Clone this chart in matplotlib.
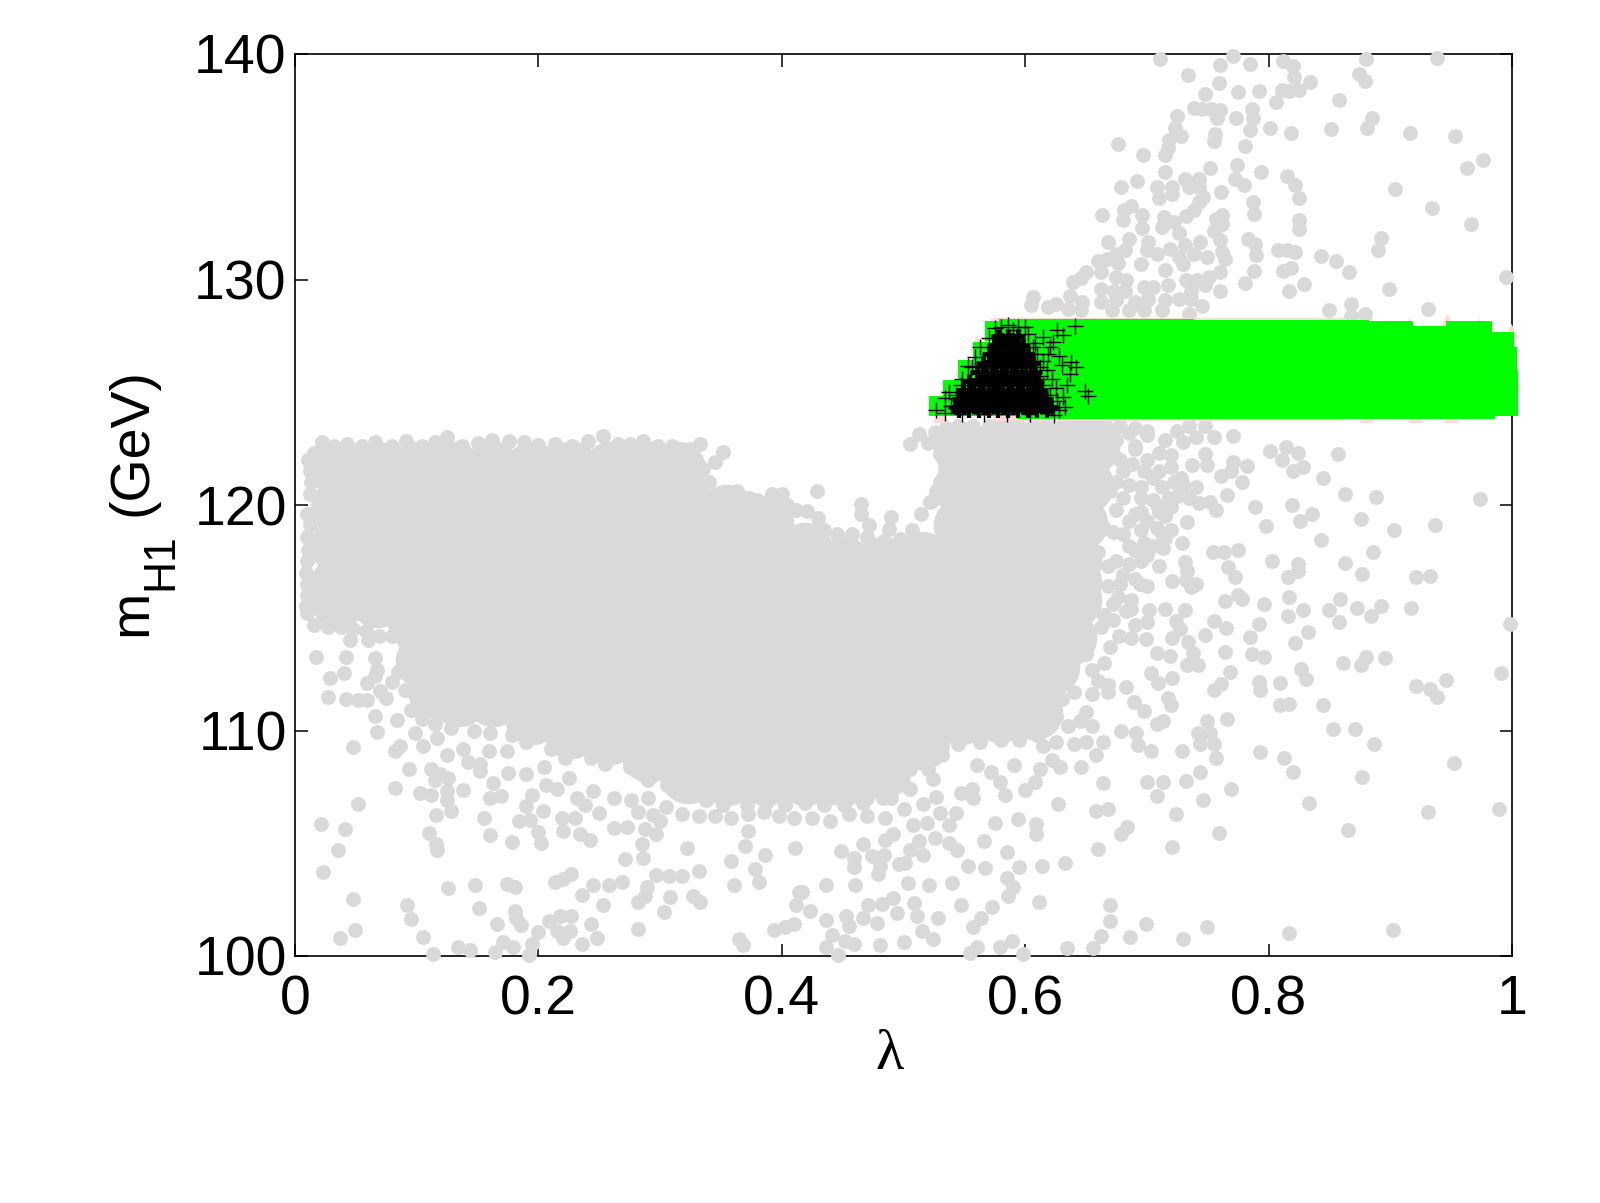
import matplotlib
matplotlib.use("Agg")
import matplotlib.pyplot as plt

plt.rcParams.update({
    "font.family": ["Liberation Sans", "DejaVu Sans"],
    "font.size": 40,
})

x_ticks = [0, 0.2, 0.4, 0.6, 0.8, 1]
x_tick_labels = ["0", "0.2", "0.4", "0.6", "0.8", "1"]
y_ticks = [100, 110, 120, 130, 140]

# solid part of the grey cloud (drawn with big discs)
core_pts = [
    (.035,121.6),(.035,119.9),(.035,118.2),(.035,116.5),(.035,115.8),
    (.067,121.6),(.067,119.9),(.067,118.2),(.067,116.5),(.067,115.8),
    (.099,121.6),(.099,119.9),(.099,118.2),(.099,116.5),(.099,114.8),(.105,113.1),(.115,111.8),
    (.131,121.6),(.131,119.9),(.131,118.2),(.131,116.5),(.131,114.8),(.131,113.1),(.135,111.4),
    (.163,121.6),(.163,119.9),(.163,118.2),(.163,116.5),(.163,114.8),(.163,113.1),(.163,111.4),
    (.195,121.6),(.195,119.9),(.195,118.2),(.195,116.5),(.195,114.8),(.195,113.1),(.195,111.4),(.195,110.6),
    (.227,121.6),(.227,119.9),(.227,118.2),(.227,116.5),(.227,114.8),(.227,113.1),(.227,111.4),(.227,110.0),
    (.259,121.6),(.259,119.9),(.259,118.2),(.259,116.5),(.259,114.8),(.259,113.1),(.259,111.4),(.259,109.7),
    (.291,121.6),(.291,119.9),(.291,118.2),(.291,116.5),(.291,114.8),(.291,113.1),(.291,111.4),(.291,109.7),(.291,108.9),
    (.315,121.6),(.323,119.9),(.323,118.2),(.323,116.5),(.323,114.8),(.323,113.1),(.323,111.4),(.323,109.7),(.323,108.0),
    (.355,119.7),(.355,118.0),(.355,116.3),(.355,114.6),(.355,112.9),(.355,111.2),(.355,109.5),(.355,107.9),
    (.387,119.2),(.387,117.5),(.387,115.8),(.387,114.1),(.387,112.4),(.387,110.7),(.387,109.0),(.387,107.9),
    (.419,118.0),(.419,116.9),(.419,115.2),(.419,113.5),(.419,111.8),(.419,110.1),(.419,108.9),(.419,107.9),
    (.451,117.4),(.451,115.7),(.451,114.0),(.451,112.3),(.451,110.6),(.451,108.9),(.451,107.9),
    (.483,117.4),(.483,115.7),(.483,114.0),(.483,112.3),(.483,110.6),(.483,109.0),(.483,108.2),
    (.515,117.6),(.515,115.9),(.515,114.2),(.515,112.5),(.515,110.8),(.515,109.5),
    (.547,122.5),(.547,120.8),(.547,119.1),(.547,117.4),(.547,115.7),(.547,114.0),(.547,112.3),(.547,110.6),
    (.579,122.6),(.579,120.9),(.579,119.2),(.579,117.5),(.579,115.8),(.579,114.1),(.579,112.4),(.579,110.7),
    (.611,122.6),(.611,120.9),(.611,119.2),(.611,117.5),(.611,115.8),(.611,114.1),(.611,112.4),(.608,110.8),
    (.640,122.6),(.640,120.9),(.640,119.2),(.640,117.5),(.640,115.8),(.636,114.1),(.622,112.8),
    (.655,122.6),(.650,120.9),(.645,119.2),(.640,116.6),
]

# small discs that square off the upper-left block of the cloud
block_edge_pts = [
    (.016,122.3),(.022,122.8),(.032,122.6),(.043,122.7),(.055,122.6),(.066,122.8),(.080,122.6),(.091,122.85),
    (.104,122.6),(.115,122.8),(.125,123.0),(.137,122.6),(.150,122.75),(.162,122.9),(.176,122.85),(.188,122.8),
    (.200,122.65),(.214,122.7),(.228,122.6),(.241,122.85),(.253,123.05),(.265,122.7),(.275,122.7),(.286,122.85),
    (.298,122.6),(.310,122.6),(.325,122.5),(.333,122.7),(.352,122.35),(.345,121.9),(.335,121.6),(.340,121.0),
    (.363,120.6),(.373,120.3),(.380,120.2),(.392,120.5),(.400,120.5),(.404,120.0),(.412,119.8),
    (.011,122.0),(.012,121.5),(.013,121.0),(.012,120.5),(.010,119.6),(.012,119.1),(.010,118.6),(.011,118.0),
    (.010,117.5),(.009,117.0),(.010,116.5),(.010,116.0),(.009,115.5),(.010,115.2),(.016,114.7),(.027,114.6),
    (.038,114.6),(.048,114.5),(.058,114.4),(.069,114.2),(.080,114.2),(.090,113.9),(.045,114.0),(.060,114.0),
    (.435,118.9),(.445,118.7),(.458,118.7),(.470,118.6),(.484,118.4),(.497,118.5),(.507,118.9),
    (.514,119.6),(.524,120.2),(.530,121.0),(.534,121.6),
]

# small discs along the lower edge of the solid part
cloud_bottom_pts = [
    (.085,112.6),(.090,111.8),(.095,110.9),(.104,110.5),(.115,110.3),(.128,110.1),(.147,110.0),(.160,109.9),
    (.178,109.8),(.190,109.5),(.210,109.2),(.222,108.8),(.243,108.8),(.255,108.5),(.275,108.4),(.290,107.8),
    (.306,107.6),(.322,107.1),(.338,106.9),(.352,106.7),(.371,106.7),(.387,106.8),(.403,106.7),(.419,106.8),
    (.435,106.7),(.451,106.7),(.467,106.8),(.483,107.0),(.500,107.6),(.505,108.3),(.520,108.3),(.532,108.9),
    (.545,109.4),(.563,109.5),(.580,109.6),(.595,109.6),(.610,109.8),(.625,110.6),
]

# small discs filling the gap under the green band and the right flank
under_band_pts = [
    (.535,123.4),(.545,123.5),(.557,123.5),(.570,123.5),(.582,123.5),(.594,123.5),(.606,123.5),(.618,123.5),
    (.630,123.5),(.642,123.5),(.654,123.5),(.666,123.5),(.678,123.5),(.690,123.4),(.700,123.3),(.725,123.3),
    (.735,123.5),(.748,123.5),(.755,123.0),(.740,123.0),(.665,122.9),(.675,122.9),(.690,122.6),(.710,122.3),
    (.720,122.2),(.728,121.2),(.712,120.8),(.700,119.3),(.720,119.9),(.730,120.9),(.735,120.3),(.708,119.0),
    (.695,117.5),(.700,117.8),(.710,117.3),(.685,117.4),(.672,115.6),(.672,114.9),(.670,113.7),(.665,113.0),
    (.655,111.6),(.645,110.4),(.630,111.4),
    (.678,122.0),(.688,121.8),(.698,121.5),(.710,121.5),(.722,121.0),(.675,121.0),(.685,120.9),(.695,120.3),
    (.708,120.0),(.718,120.3),(.675,119.8),(.685,119.3),(.695,119.7),(.710,119.7),(.672,118.8),(.685,118.2),
    (.698,118.3),(.712,118.7),(.720,118.9),(.668,117.3),(.678,116.5),(.690,116.7),(.676,115.9),(.683,115.3),
    (.665,115.1),(.677,114.2),(.660,112.2),(.668,111.7),(.655,110.2),(.650,109.5),
]

# scattered discs, lower left
sparse_left = [
    (.017,113.24),(.042,113.24),(.029,112.32),(.040,112.53),(.027,111.48),(.042,111.40),(.052,111.35),(.059,111.35),
    (.059,112.11),(.066,112.4),(.066,113.2),(.067,112.7),(.070,111.76),(.080,112.16),(.075,111.43),(.066,110.63),
    (.084,110.47),(.067,109.93),(.048,109.29),(.082,109.1),(.086,109.3),(.099,109.9),(.105,109.3),(.117,109.66),
    (.125,108.93),(.138,109.2),(.159,109.1),(.174,109.1),(.152,108.53),(.152,108.2),(.094,108.3),(.112,108.29),
    (.119,108.05),(.115,107.8),(.126,107.9),(.082,107.45),(.103,107.24),(.112,107.16),(.125,107.32),(.125,106.92),
    (.138,107.37),(.128,106.43),(.116,106.27),(.052,106.76),(.021,105.85),(.041,105.61),(.035,104.71),(.023,103.74),
    (.110,105.47),(.116,104.98),(.117,104.71),(.160,105.35),(.155,106.11),(.160,107.0),(.169,107.08),(.163,107.69),
    (.190,108.05),(.195,107.16),(.190,106.63),(.206,107.6),(.204,106.43),(.184,105.98),(.193,106.03),(.200,105.5),
    (.202,105.0),(.178,105.05),(.220,105.55),(.219,106.1),(.230,106.1),(.234,105.42),(.242,105.14),(.250,106.35),
    (.262,105.66),(.273,105.71),(.288,105.63),(.297,105.39),(.294,106.27),(.285,104.98),(.286,104.34),(.271,104.31),
    (.322,104.79),(.332,103.76),(.358,104.2),(.370,104.9),(.372,105.55),(.386,104.5),(.378,103.85),(.381,103.27),
    (.361,103.14),(.318,103.53),(.307,103.53),(.297,103.6),(.289,103.05),(.288,102.64),(.282,102.4),(.308,102.61),
    (.327,102.64),(.333,102.4),(.303,101.97),(.269,103.3),(.258,103.16),(.245,103.13),(.236,102.72),(.253,102.27),
    (.227,103.64),(.214,103.29),(.220,103.4),(.181,103.05),(.174,103.18),(.148,103.13),(.126,103.02),(.048,102.53),
    (.092,102.24),(.095,101.64),(.151,102.11),(.181,102.0),(.182,101.68),(.186,101.39),(.166,101.4),(.209,101.56),
    (.218,101.76),(.227,101.79),(.243,101.42),(.248,100.79),(.282,101.2),(.365,100.74),(.368,100.5),(.049,101.14),
    (.037,100.79),(.105,100.84),(.113,100.11),(.134,100.42),(.144,100.26),(.164,100.19),(.171,100.63),(.179,100.39),
    (.192,100.06),(.195,100.55),(.200,101.08),(.215,101.1),(.220,100.79),(.226,101.1),(.236,100.55),(.394,101.14),
    (.403,101.27),(.410,101.4),(.412,102.24),(.414,102.85),(.411,104.79),
    (.215,107.4),(.232,107.0),(.245,107.3),(.262,107.0),(.276,106.9),(.290,107.0),(.305,106.6),(.318,106.3),
    (.332,106.2),(.345,106.2),(.358,106.1),(.372,106.3),(.385,106.4),(.398,106.2),(.410,106.1),(.402,106.9),
    (.300,106.0),(.282,106.4),(.238,106.7),(.225,107.9),(.205,108.4),(.175,108.1),(.142,108.6),
]

# scattered discs, lower right
sparse_right = [
    (.998,114.74),(.974,120.27),(.937,119.1),(.903,118.9),(.876,119.37),(.888,120.34),(.863,120.5),(.857,122.24),
    (.845,121.2),(.843,118.45),(.836,119.6),(.826,119.3),(.819,120.0),(.828,121.7),(.820,121.5),(.824,122.3),
    (.814,122.56),(.811,122.0),(.801,122.4),(.789,119.92),(.798,119.08),(.782,121.73),(.778,121.03),(.771,121.92),
    (.769,121.5),(.761,121.27),(.771,123.05),(.766,120.43),(.757,119.79),(.752,120.14),(.743,120.1),(.740,120.82),
    (.749,121.76),(.748,122.24),(.737,121.76),(.803,117.5),(.824,117.4),(.824,117.08),(.816,116.8),(.863,117.43),
    (.886,117.92),(.877,116.92),(.921,116.82),(.933,116.85),(.859,115.82),(.858,114.82),(.850,115.35),(.873,115.42),
    (.892,115.53),(.884,115.08),(.917,115.42),(.817,115.9),(.816,115.08),(.828,115.34),(.796,115.61),(.775,116.03),
    (.778,115.84),(.764,115.74),(.832,114.39),(.822,113.89),(.792,114.71),(.785,114.16),(.765,114.53),(.755,114.87),
    (.748,114.22),(.786,113.4),(.796,113.27),(.764,113.48),(.861,113.0),(.880,113.24),(.876,112.89),(.896,113.21),
    (.827,112.72),(.831,112.27),(.768,112.61),(.761,112.08),(.755,111.81),(.792,112.16),(.793,111.79),(.809,112.11),
    (.809,111.14),(.817,111.18),(.845,111.14),(.853,110.05),(.871,110.05),(.887,109.42),(.946,112.24),(.921,111.97),
    (.933,111.84),(.938,111.47),(.991,112.53),(.793,109.05),(.813,108.77),(.820,108.14),(.877,107.93),(.952,108.58),
    (.833,106.79),(.931,106.4),(.989,106.5),(.865,105.58),(.817,101.03),(.902,101.14),(.749,101.27),(.730,100.76),
    (.699,101.4),(.686,100.84),(.662,100.9),(.656,100.34),(.634,100.34),(.670,101.56),(.670,102.27),(.759,105.47),
    (.721,104.85),(.660,104.76),(.684,105.71),(.679,105.39),(.724,106.31),(.746,106.92),(.769,107.4),(.744,108.18),
    (.732,107.76),(.713,107.72),(.700,107.72),(.708,107.08),(.664,107.68),(.658,106.43),(.668,106.53),(.627,106.72),
    (.729,109.1),(.703,109.1),(.693,109.34),(.691,109.9),(.679,110.0),(.664,109.5),(.658,108.93),(.646,108.37),
    (.629,108.37),(.622,108.7),(.757,108.77),(.755,109.42),(.742,109.9),(.752,109.9),(.749,110.4),(.766,110.5),
    (.744,109.42),(.720,111.11),(.717,111.43),(.713,110.43),(.708,110.3),(.698,110.87),(.689,111.27),(.683,111.92),
    (.668,112.0),(.721,112.32),(.709,112.11),(.703,112.56),(.742,112.92),(.733,112.9),(.738,113.45),(.734,113.93),
    (.719,113.29),(.708,113.45),(.721,114.1),(.727,114.5),(.724,114.85),(.699,114.05),(.687,114.1),(.731,115.35),
    (.715,115.39),(.702,115.34),(.700,114.82),(.690,114.66),(.687,115.79),(.687,115.39),(.736,116.35),(.740,116.5),
    (.732,116.68),(.721,116.64),(.733,117.08),(.700,116.43),(.694,116.5),(.731,117.48),(.729,118.32),(.754,117.92),
    (.763,117.92),(.775,118.0),(.767,117.24),(.772,116.8),(.733,119.26),(.713,118.08),(.715,118.53),
    (.429,120.63),(.421,119.74),(.430,119.42),(.465,120.06),(.465,119.58),(.472,119.1),(.490,119.47),(.488,118.93),
    (.505,122.69),(.513,123.13),(.520,122.76),(.526,123.24),(.530,122.24),(.541,121.92),(.527,120.63),(.522,120.14),
    (.436,103.13),(.460,103.13),(.417,102.85),(.504,103.24),(.521,103.13),(.540,103.24),(.547,102.24),(.573,102.16),
    (.564,101.68),(.557,101.27),(.528,101.68),(.509,102.35),(.491,102.56),(.495,101.92),(.482,102.3),(.471,102.27),
    (.467,101.68),(.453,101.76),(.455,101.35),(.436,101.6),(.423,102.0),(.478,101.48),(.511,101.76),(.515,101.11),
    (.524,100.76),(.441,100.95),(.452,100.68),(.459,100.52),(.436,100.39),(.446,100.03),(.481,100.47),(.500,100.63),
    (.555,100.15),(.560,100.39),(.579,100.42),(.589,100.68),(.598,100.11),(.611,102.39),(.586,102.64),(.590,103.05),
    (.585,103.45),(.595,103.95),(.614,103.97),(.633,104.14),(.567,103.9),(.553,103.98),(.585,104.63),(.566,105.11),
    (.544,104.7),(.537,105.0),(.526,105.22),(.516,104.47),(.505,104.7),(.501,104.14),(.496,104.06),(.513,105.11),
    (.491,105.39),(.485,105.14),(.484,104.5),(.479,103.64),(.481,104.0),(.474,104.42),(.467,104.95),(.459,103.93),
    (.459,104.34),(.449,104.66),(.508,105.79),(.519,105.92),(.530,106.35),(.543,106.32),(.537,105.79),(.516,106.76),
    (.527,107.03),(.575,105.9),(.594,106.08),(.609,105.84),(.609,105.39),(.583,107.16),(.547,107.24),(.557,107.0),
    (.556,107.4),(.524,107.85),(.600,107.37),(.608,107.72),(.612,108.29),(.591,108.45),(.579,107.72),(.572,108.18),
    (.560,108.45),(.500,106.5),(.485,106.1),(.470,106.2),(.455,106.3),(.440,106.0),(.425,106.1),(.505,107.4),
    (.490,107.0),(.470,107.0),(.440,107.0),
    (.672,122.3),(.680,121.5),(.690,122.5),(.700,122.0),(.705,121.2),(.695,120.8),(.680,120.3),(.690,119.6),
    (.705,120.2),(.715,119.5),(.725,120.4),(.720,121.7),(.730,122.8),(.715,122.9),(.700,123.1),(.685,123.2),
    (.670,120.6),(.665,119.0),(.680,118.7),(.695,118.9),(.705,118.2),(.690,118.0),(.675,117.5),(.660,117.9),
    (.668,116.4),(.680,116.9),(.655,115.5),(.662,114.6),(.650,113.4),(.655,112.7),(.640,111.7),(.650,110.8),
    (.635,110.2),(.640,109.4),(.625,109.5),(.615,109.3),
]

# scattered discs above the green band
sparse_top = [
    (.711,139.76),(.771,139.92),(.760,139.52),(.785,139.57),(.812,139.71),(.820,139.45),(.821,138.97),(.834,138.74),
    (.825,138.41),(.817,138.38),(.811,138.41),(.880,139.76),(.938,139.82),(.874,139.12),(.879,138.8),(.734,139.05),
    (.759,138.71),(.748,138.22),(.775,138.31),(.792,138.35),(.806,137.85),(.858,137.98),(.739,137.61),(.745,137.54),
    (.753,137.57),(.760,137.5),(.758,137.17),(.773,137.17),(.786,137.54),(.787,137.17),(.725,137.23),(.785,136.65),
    (.801,136.71),(.818,136.51),(.851,136.67),(.885,137.17),(.881,136.73),(.916,136.49),(.953,136.36),(.723,136.73),
    (.728,136.36),(.756,136.46),(.755,136.12),(.718,136.2),(.717,135.84),(.715,135.53),(.676,136.0),(.697,135.5),
    (.781,135.9),(.774,135.09),(.752,134.94),(.715,134.75),(.794,134.75),(.815,134.58),(.822,134.2),(.825,133.61),
    (.976,135.29),(.963,134.94),(.904,134.02),(.934,133.18),(.966,132.46),(.772,134.47),(.780,134.21),(.761,133.9),
    (.692,134.35),(.679,134.1),(.708,134.1),(.710,133.61),(.721,133.8),(.721,134.1),(.731,134.44),(.735,134.1),
    (.743,134.47),(.743,134.1),(.746,133.65),(.743,133.43),(.787,133.43),(.788,132.91),(.825,132.62),(.825,132.25),
    (.687,133.25),(.681,133.06),(.696,132.87),(.663,132.85),(.680,132.62),(.696,132.28),(.714,132.77),(.722,132.54),
    (.712,132.35),(.739,133.06),(.732,132.81),(.762,132.84),(.757,132.69),(.762,132.47),(.755,132.15),(.726,132.06),
    (.760,131.73),(.783,131.78),(.789,131.58),(.790,131.07),(.892,131.85),(.890,131.33),(.685,131.8),(.668,131.66),
    (.701,131.66),(.731,131.55),(.744,131.66),(.719,131.36),(.708,131.14),(.700,131.29),(.682,131.32),(.808,131.29),
    (.815,131.29),(.822,131.21),(.843,131.02),(.855,130.84),(.866,130.33),(.749,130.99),(.762,131.21),(.764,130.92),
    (.726,130.99),(.730,130.7),(.739,131.14),(.675,131.14),(.667,130.92),(.660,130.81),(.676,130.73),(.695,130.7),
    (.715,130.4),(.760,130.33),(.788,130.37),(.818,130.52),(.812,130.37),(.995,130.13),(.650,130.33),(.662,130.33),
    (.639,129.88),(.646,130.08),(.675,130.1),(.683,129.99),(.732,129.99),(.741,129.96),(.751,130.1),(.748,129.74),
    (.760,129.51),(.781,129.85),(.829,129.78),(.817,129.51),(.899,129.56),(.698,129.66),(.705,129.66),(.717,129.76),
    (.736,129.51),(.662,129.59),(.673,129.51),(.682,129.51),(.606,129.22),(.605,128.89),(.637,129.29),(.647,129.0),
    (.625,128.92),(.619,128.77),(.662,129.0),(.675,129.07),(.690,129.0),(.701,129.14),(.715,129.07),(.726,129.14),
    (.736,129.14),(.745,128.82),(.635,128.7),(.646,128.63),(.671,128.63),(.685,128.63),(.698,128.63),(.712,128.63),
    (.735,128.48),(.850,128.63),(.868,128.92),(.879,128.45),(.931,128.69),(.868,128.4),
]

# pink peeks out round the green band
pink_squares = [
    (.590,127.42),(.622,127.42),(.654,127.42),(.686,127.42),(.718,127.42),(.750,127.42),(.782,127.42),(.814,127.42),(.846,127.42),
    (.590,124.63),(.622,124.63),(.654,124.63),(.686,124.63),(.718,124.63),(.750,124.63),(.782,124.63),(.814,124.63),(.846,124.63),
]
pink_triangles = [
    (.532,124.9),(.548,126.1),(.560,127.2),(.572,128.0),(.884,128.0),(.915,128.0),(.947,128.15),(.973,128.0),
    (.999,127.7),(1.001,125.4),(.530,124.0),(.880,124.0),(.920,124.0),(.950,124.0),
]

# left taper of the band, small squares
green_left = [
    (.529,124.4),(.541,124.4),(.541,125.1),(.553,124.4),(.553,125.2),(.553,126.0),(.565,124.4),(.565,125.2),
    (.565,126.0),(.565,126.8),(.575,124.4),(.575,125.2),(.575,126.0),(.575,126.8),(.575,127.7),(.587,124.4),
    (.587,125.2),(.587,126.0),(.587,126.8),(.587,127.8),
]

# body of the band, big squares
green_band = [
    (.612,124.82),(.612,126.0),(.612,127.23),(.648,124.82),(.648,126.0),(.648,127.23),(.684,124.82),(.684,126.0),
    (.684,127.23),(.720,124.82),(.720,126.0),(.720,127.23),(.756,124.82),(.756,126.0),(.756,127.2),(.792,124.82),
    (.792,126.0),(.792,127.2),(.828,124.82),(.828,126.0),(.828,127.2),(.864,124.82),(.864,126.0),(.864,127.2),
    (.900,124.82),(.900,126.0),(.900,127.15),(.932,124.85),(.932,126.0),(.932,126.9),(.967,124.85),(.967,126.0),
    (.965,127.15),(.985,125.0),(.985,126.0),(.983,126.65),(.986,124.95),
]

# pluses: the dense heap, drawn thicker
black_core = [
    (.578,127.5),(.586,127.5),(.594,127.5),
    (.574,127.1),(.582,127.1),(.590,127.1),(.598,127.1),
    (.570,126.7),(.578,126.7),(.586,126.7),(.594,126.7),(.602,126.7),
    (.565,126.3),(.573,126.3),(.581,126.3),(.589,126.3),(.597,126.3),(.606,126.3),
    (.560,125.9),(.568,125.9),(.576,125.9),(.584,125.9),(.592,125.9),(.600,125.9),(.608,125.9),
    (.554,125.5),(.562,125.5),(.570,125.5),(.578,125.5),(.586,125.5),(.594,125.5),(.602,125.5),(.610,125.5),
    (.549,125.1),(.557,125.1),(.565,125.1),(.573,125.1),(.581,125.1),(.589,125.1),(.597,125.1),(.605,125.1),(.613,125.1),
    (.546,124.7),(.554,124.7),(.562,124.7),(.570,124.7),(.578,124.7),(.586,124.7),(.594,124.7),(.602,124.7),(.610,124.7),(.617,124.7),
    (.542,124.35),(.550,124.35),(.558,124.35),(.566,124.35),(.574,124.35),(.582,124.35),(.590,124.35),(.598,124.35),(.606,124.35),(.614,124.35),(.621,124.35),
]

# pluses: fill the lattice left by the thick ones
black_fill = [
    (.582,127.3),(.590,127.3),(.578,126.9),(.586,126.9),(.594,126.9),(.574,126.5),(.582,126.5),(.590,126.5),(.598,126.5),
    (.569,126.1),(.577,126.1),(.585,126.1),(.593,126.1),(.601,126.1),(.565,125.7),(.573,125.7),(.581,125.7),(.589,125.7),
    (.597,125.7),(.605,125.7),(.558,125.3),(.566,125.3),(.574,125.3),(.582,125.3),(.590,125.3),(.598,125.3),(.606,125.3),
    (.553,124.9),(.561,124.9),(.569,124.9),(.577,124.9),(.585,124.9),(.593,124.9),(.601,124.9),(.609,124.9),(.550,124.55),
    (.558,124.55),(.566,124.55),(.574,124.55),(.582,124.55),(.590,124.55),(.598,124.55),(.606,124.55),(.614,124.55),
    (.546,124.15),(.554,124.15),(.562,124.15),(.570,124.15),(.578,124.15),(.586,124.15),(.594,124.15),(.602,124.15),(.610,124.15),(.618,124.15),
]

# pluses: loose ones round the heap
black_loose = [
    (.641,127.95),(.649,125.07),(.652,124.83),(.626,127.76),(.631,127.53),(.623,127.24),(.615,127.46),(.642,126.1),
    (.638,126.35),(.630,126.2),(.637,125.83),(.634,125.32),(.633,124.36),(.631,124.8),(.527,124.21),(.534,124.73),
    (.537,125.02),(.553,126.16),(.559,126.57),(.575,127.83),(.586,127.98),(.594,127.9),(.602,127.6),(.608,127.2),
    (.610,126.7),(.615,126.4),(.618,126.0),(.622,125.6),(.625,125.2),(.620,124.9),(.626,124.6),(.628,124.2),
    (.622,124.3),(.615,125.3),(.612,125.7),(.619,126.7),(.606,127.0),(.580,127.9),(.570,127.4),(.563,127.0),
    (.548,125.6),(.543,124.9),(.539,124.4),(.534,124.1),(.547,125.3),(.556,126.1),(.612,126.1),(.628,126.6),
    (.620,127.0),(.600,127.9),(.590,127.75),(.605,126.4),(.624,124.0),(.604,124.05),(.585,124.05),(.566,124.05),(.548,124.05),
]

fig = plt.figure(figsize=(16, 12.03), dpi=100, facecolor="white")
ax = fig.add_axes([295/1600, 1-956/1203, 1217/1600, 902/1203])

# clip_on off: discs and squares run over the frame in the original
lam, mh = zip(*core_pts)
ax.scatter(lam, mh, s=1600, c="#d9d9d9", marker="o", linewidths=0, zorder=3, clip_on=False)
for pts in (block_edge_pts, cloud_bottom_pts, under_band_pts, sparse_left, sparse_right, sparse_top):
    lam, mh = zip(*pts)
    ax.scatter(lam, mh, s=115, c="#d9d9d9", marker="o", linewidths=0, zorder=3, clip_on=False)

lam, mh = zip(*pink_squares)
ax.scatter(lam, mh, s=830, c="#ffd9d9", marker="s", linewidths=0, zorder=3.1, clip_on=False)
lam, mh = zip(*pink_triangles)
ax.scatter(lam, mh, s=120, c="#ffd9d9", marker="^", linewidths=0, zorder=3.1, clip_on=False)
lam, mh = zip(*green_left)
ax.scatter(lam, mh, s=210, c="#00ff00", marker="s", linewidths=0, zorder=3.2, clip_on=False)
lam, mh = zip(*green_band)
ax.scatter(lam, mh, s=1100, c="#00ff00", marker="s", linewidths=0, zorder=3.2, clip_on=False)

lam, mh = zip(*black_core)
ax.plot(lam, mh, ls="none", marker="+", ms=10, mew=3.4, color="black", zorder=3.3, clip_on=False)
lam, mh = zip(*black_fill)
ax.plot(lam, mh, ls="none", marker="+", ms=10, mew=3.0, color="black", zorder=3.3, clip_on=False)
lam, mh = zip(*black_loose)
ax.plot(lam, mh, ls="none", marker="+", ms=11, mew=1.0, color="black", zorder=3.3, clip_on=False)

ax.set_xlim(0, 1)
ax.set_ylim(100, 140)
ax.set_xticks(x_ticks)
ax.set_xticklabels(x_tick_labels)
ax.set_yticks(y_ticks)
ax.tick_params(axis="both", direction="in", top=True, right=True, length=9, width=1.1, labelsize=40)
ax.tick_params(axis="x", pad=13)
ax.tick_params(axis="y", pad=6)
for s in ax.spines.values():
    s.set_linewidth(1.2)

fig.text(889.5/1600, 1-1069/1203, "\u03bb", family=["Liberation Serif"], fontsize=42,
         ha="center", va="baseline")
# y label in three pieces: the subscript sits lower and larger than mathtext puts it
fig.text(146/1600, 1-636/1203, "m", fontsize=40, rotation=90, rotation_mode="anchor",
         ha="left", va="baseline")
fig.text(172/1600, 1-590/1203, "H1", fontsize=32, rotation=90, rotation_mode="anchor",
         ha="left", va="baseline")
fig.text(146/1600, 1-516/1203, "(GeV)", fontsize=40, rotation=90, rotation_mode="anchor",
         ha="left", va="baseline")

fig.savefig("out.png", dpi=100, facecolor="white")
